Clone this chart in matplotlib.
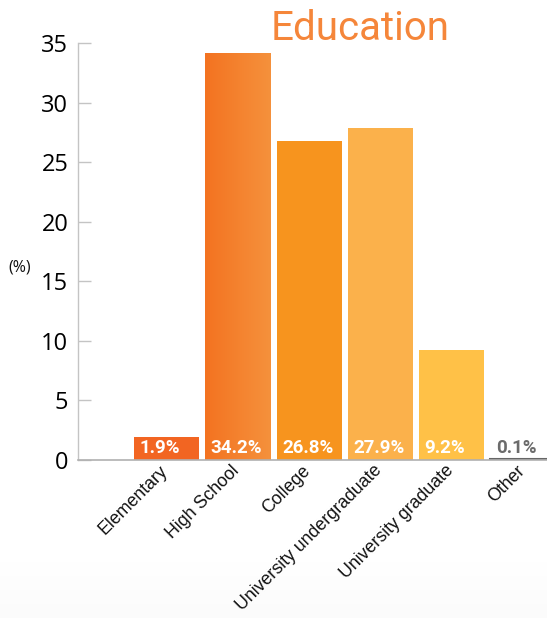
import matplotlib
matplotlib.use("Agg")
import matplotlib.pyplot as plt
import matplotlib.transforms as mtransforms
from matplotlib.colors import LinearSegmentedColormap
import numpy as np

categories = ["Elementary", "High School", "College", "University undergraduate",
              "University graduate", "Other"]
values = [1.9, 34.2, 26.8, 27.9, 9.2, 0.1]
value_labels = ["1.9%", "34.2%", "26.8%", "27.9%", "9.2%", "0.1%"]
bar_colors = ["#F26522", "#F37A2A", "#F7941E", "#FBB14B", "#FFC147", "#666666"]
label_colors = ["white", "white", "white", "white", "white", "#6b6b6b"]
yticks = [0, 5, 10, 15, 20, 25, 30, 35]

W, H, DPI = 547, 618, 100
fig = plt.figure(figsize=(W / DPI, H / DPI), dpi=DPI, facecolor="white")

# very faint bottom shading like the reference background
bg = fig.add_axes([0, 0, 1, 1], zorder=-10)
bg.axis("off")
grad = np.linspace(0, 1, 200).reshape(-1, 1)
bg.imshow(grad, extent=(0, 1, 0, 0.09), aspect="auto", origin="lower",
          cmap=LinearSegmentedColormap.from_list("g", ["#fbfbfb", "#ffffff"]),
          vmin=0, vmax=1)
bg.set_xlim(0, 1)
bg.set_ylim(0, 1)

left_px, right_px, base_px, top_px = 78, 547, 460, 43
ax = fig.add_axes([left_px / W, (H - base_px) / H,
                   (right_px - left_px) / W, (base_px - top_px) / H])
ax.patch.set_alpha(0)

x = np.arange(len(categories))
width = 0.912
bars = ax.bar(x, values, width=width, color=bar_colors, zorder=2,
              linewidth=0)
bars[5].set_edgecolor("#666666")
bars[5].set_linewidth(1.5)

# gradient on High School bar
b = bars[1]
g = np.linspace(0, 1, 100).reshape(1, -1)
cm = LinearSegmentedColormap.from_list("hs", ["#F37321", "#F5913C"])
im = ax.imshow(g, extent=(b.get_x(), b.get_x() + b.get_width(), 0, b.get_height()),
               aspect="auto", cmap=cm, zorder=2.5)
im.set_clip_path(b)

ax.set_xlim(-1.241, 5.337)
ax.set_ylim(0, 35)

for s in ["top", "right"]:
    ax.spines[s].set_visible(False)
ax.spines["left"].set_color("#c4c4c4")
ax.spines["bottom"].set_color("#b0b0b0")
ax.spines["left"].set_linewidth(1)
ax.spines["bottom"].set_linewidth(1.2)

ax.set_yticks(yticks)
ax.set_yticklabels([str(t) for t in yticks], fontsize=17, family=["Open Sans", "DejaVu Sans"])
ax.tick_params(axis="y", direction="in", length=9.5, width=1, color="#c4c4c4", pad=7)

ax.set_xticks(x)
ax.set_xticklabels(categories, rotation=45, ha="right", rotation_mode="anchor",
                   fontsize=12.8, family=["Liberation Sans", "DejaVu Sans"], color="#111111")
ax.tick_params(axis="x", length=0, pad=1.5)
off = mtransforms.ScaledTranslation(-7 / DPI, 0, fig.dpi_scale_trans)
for lbl in ax.get_xticklabels():
    lbl.set_transform(lbl.get_transform() + off)

# value labels inside bars
for i, (v, lab) in enumerate(zip(values, value_labels)):
    tr = ax.transData + mtransforms.ScaledTranslation(5.5 / DPI, 7 / DPI, fig.dpi_scale_trans)
    ax.text(x[i] - width / 2, 0, lab, transform=tr, ha="left", va="baseline",
            fontsize=13.5, fontweight="bold", color=label_colors[i],
            family=["Roboto", "DejaVu Sans"], zorder=4)

fig.text(20 / W, 1 - 267 / H, "(%)", fontsize=11.5, ha="center", va="center",
         family=["Open Sans", "DejaVu Sans"], color="#111111")

fig.text(360 / W, 1 - 40 / H, "Education", fontsize=29, color="#F5863A",
         ha="center", va="baseline", family=["Roboto", "DejaVu Sans"])

fig.savefig("out.png", dpi=DPI, facecolor="white")
